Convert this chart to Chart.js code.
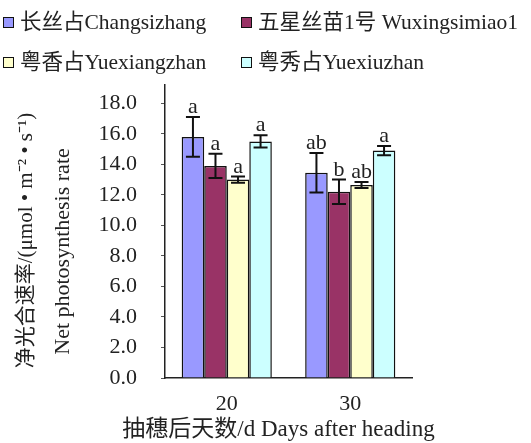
<!DOCTYPE html>
<html>
<head>
<meta charset="utf-8">
<script src="https://cdn.jsdelivr.net/npm/chart.js@4.4.1/dist/chart.umd.min.js"></script>
<style>
  html, body { margin: 0; padding: 0; background: #fff; }
  #wrap { position: relative; width: 531px; height: 443px; }
  #legend { position: absolute; left: 0; top: 0; width: 531px; height: 80px;
    font-family: 'Liberation Serif', 'Noto Sans CJK SC', serif; font-size: 21.5px; color: #222; }
  .li { position: absolute; white-space: nowrap; line-height: 24px; }
  .li .box { position: absolute; left: 0; top: 7px; width: 9px; height: 9px; border: 1.5px solid #111; }
  .li .txt { position: absolute; left: 17px; top: 0; }
  canvas { position: absolute; left: 0; top: 0; }
</style>
</head>
<body>
<div id="wrap">
  <canvas id="c" width="531" height="443"></canvas>
  <div id="legend"></div>
</div>
<script>
// ---- data ----
const categories = ['20', '30'];
const seriesNames = ['长丝占Changsizhang', '五星丝苗1号 Wuxingsimiao1', '粤香占Yuexiangzhan', '粤秀占Yuexiuzhan'];
const changsizhang = [15.8, 13.45];
const wuxingsimiao = [13.9, 12.2];
const yuexiangzhan = [13.0, 12.65];
const yuexiuzhan = [15.5, 14.9];
const errChangsizhang = [1.3, 1.3];
const errWuxingsimiao = [0.8, 0.8];
const errYuexiangzhan = [0.2, 0.2];
const errYuexiuzhan = [0.4, 0.3];
const lettersChangsizhang = ['a', 'ab'];
const lettersWuxingsimiao = ['a', 'b'];
const lettersYuexiangzhan = ['a', 'ab'];
const lettersYuexiuzhan = ['a', 'a'];
const yTickValues = [0, 2, 4, 6, 8, 10, 12, 14, 16, 18];
const xTitle = '抽穗后天数/d Days after heading';
const yTitleLines = ['净光合速率/(μmol • m⁻² • s⁻¹)', 'Net photosynthesis rate'];

const colors = ['#9999FF', '#993366', '#FFFFCC', '#CCFFFF'];
const FONT = "'Liberation Serif', 'Noto Sans CJK SC', serif";

const values = [changsizhang, wuxingsimiao, yuexiangzhan, yuexiuzhan];
const errs = [errChangsizhang, errWuxingsimiao, errYuexiangzhan, errYuexiuzhan];
const letters = [lettersChangsizhang, lettersWuxingsimiao, lettersYuexiangzhan, lettersYuexiuzhan];

const datasets = values.map((v, i) => ({
  label: seriesNames[i],
  data: v,
  err: errs[i],
  letters: letters[i],
  backgroundColor: colors[i],
  borderColor: '#111',
  borderWidth: 1.5,
  categoryPercentage: 0.73,
  barPercentage: 1.0
}));

// HTML legend built from datasets
const legendPos = [[3, 10], [241, 10], [3, 50], [241, 50]];
const legendEl = document.getElementById('legend');
datasets.forEach((d, i) => {
  const li = document.createElement('div');
  li.className = 'li';
  li.style.left = legendPos[i][0] + 'px';
  li.style.top = legendPos[i][1] + 'px';
  li.innerHTML = '<span class="box" style="background:' + d.backgroundColor + '"></span><span class="txt"></span>';
  li.querySelector('.txt').textContent = d.label;
  legendEl.appendChild(li);
});

const errorBarPlugin = {
  id: 'errorBars',
  afterDatasetsDraw(chart) {
    const ctx = chart.ctx;
    const y = chart.scales.y;
    ctx.save();
    chart.data.datasets.forEach((ds, di) => {
      const meta = chart.getDatasetMeta(di);
      meta.data.forEach((bar, i) => {
        const v = ds.data[i], e = ds.err[i];
        const x = bar.x;
        const yt = y.getPixelForValue(v + e);
        const yb = y.getPixelForValue(v - e);
        const cap = 7;
        ctx.strokeStyle = '#111';
        ctx.lineWidth = 2;
        ctx.beginPath();
        ctx.moveTo(x, yt); ctx.lineTo(x, yb);
        ctx.moveTo(x - cap, yt); ctx.lineTo(x + cap, yt);
        ctx.moveTo(x - cap, yb); ctx.lineTo(x + cap, yb);
        ctx.stroke();
        ctx.fillStyle = '#222';
        ctx.font = '22px ' + FONT;
        ctx.textAlign = 'center';
        ctx.textBaseline = 'alphabetic';
        ctx.fillText(ds.letters[i], x, yt - 4);
      });
    });
    ctx.restore();
  }
};

// axis titles drawn as text, positioned relative to the chart area
const axisTitlePlugin = {
  id: 'axisTitles',
  afterDraw(chart) {
    const ctx = chart.ctx;
    const a = chart.chartArea;
    ctx.save();
    ctx.fillStyle = '#222';
    ctx.textAlign = 'center';
    ctx.textBaseline = 'middle';
    ctx.font = '23px ' + FONT;
    ctx.fillText(xTitle, (a.left + a.right) / 2 - 10, a.bottom + 52);
    const mid = a.top + (a.bottom - a.top) / 2;
    const ys = [mid + 9, mid + 20];
    const xs = [26, 63];
    const sizes = [21, 22];
    yTitleLines.forEach((t, i) => {
      ctx.save();
      ctx.font = sizes[i] + 'px ' + FONT;
      ctx.translate(xs[i], ys[i]);
      ctx.rotate(-Math.PI / 2);
      ctx.fillText(t, 0, 0);
      ctx.restore();
    });
    ctx.restore();
  }
};

new Chart(document.getElementById('c'), {
  type: 'bar',
  data: { labels: categories, datasets },
  plugins: [errorBarPlugin, axisTitlePlugin],
  options: {
    responsive: false,
    animation: false,
    devicePixelRatio: 1,
    layout: { padding: { top: 85, right: 119, left: 0, bottom: 0 } },
    plugins: { legend: { display: false }, tooltip: { enabled: false } },
    scales: {
      x: {
        grid: { display: false },
        border: { display: true, color: '#222', width: 1.5 },
        ticks: { color: '#222', font: { family: FONT, size: 22 }, padding: 5 },
        afterFit(s) { s.height = 65; }
      },
      y: {
        min: 0, max: 19.2,
        afterBuildTicks(s) { s.ticks = yTickValues.map(v => ({ value: v })); },
        grid: { drawOnChartArea: false, drawTicks: true, tickLength: 4, color: '#555' },
        border: { display: true, color: '#222', width: 1.5 },
        ticks: {
          color: '#222', font: { family: FONT, size: 22 }, padding: 24,
          callback: v => Number(v).toFixed(1)
        },
        afterFit(s) { s.width = 165; }
      }
    }
  }
});
</script>
</body>
</html>
